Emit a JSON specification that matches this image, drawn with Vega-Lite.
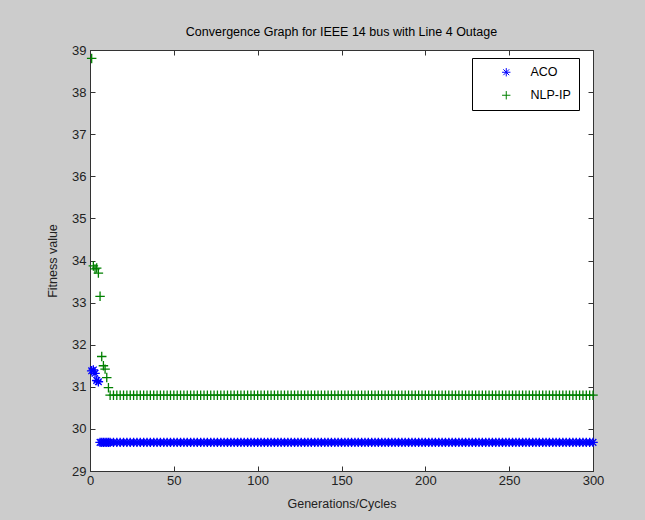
{
  "$schema": "https://vega.github.io/schema/vega-lite/v6.json",
  "width": 503,
  "height": 421,
  "autosize": {"type": "none"},
  "padding": {"left": 90, "top": 50, "right": 52, "bottom": 49},
  "background": "#cccccc",
  "title": {"text": "Convergence Graph for IEEE 14 bus with Line 4 Outage", "font": "Liberation Sans", "fontSize": 12.5, "fontWeight": "normal", "color": "#000000", "offset": 6, "anchor": "middle"},
  "config": {
    "view": {"fill": "#ffffff", "stroke": "#333333", "strokeWidth": 1},
    "axis": {"grid": false, "labelFont": "Liberation Sans", "labelFontSize": 13, "labelColor": "#222222", "labelFlush": false, "labelOverlap": false, "titleFont": "Liberation Sans", "titleFontSize": 12.5, "titleFontWeight": "normal", "titleColor": "#222222", "domainColor": "#333333", "tickColor": "#333333", "tickSize": -5, "tickWidth": 1}
  },
  "data": {"values": [
    {"x":1,"ACO":31.38,"NLP-IP":38.8},
    {"x":2,"ACO":31.4,"NLP-IP":33.87},
    {"x":3,"ACO":31.32,"NLP-IP":33.8},
    {"x":4,"ACO":31.15,"NLP-IP":33.82},
    {"x":5,"ACO":31.12,"NLP-IP":33.7},
    {"x":6,"ACO":29.68,"NLP-IP":33.15},
    {"x":7,"ACO":29.68,"NLP-IP":31.72},
    {"x":8,"ACO":29.68,"NLP-IP":31.5},
    {"x":9,"ACO":29.68,"NLP-IP":31.42},
    {"x":10,"ACO":29.68,"NLP-IP":31.22},
    {"x":11,"ACO":29.68,"NLP-IP":30.98},
    {"x":12,"ACO":29.68,"NLP-IP":30.8},
    {"x":14,"ACO":29.68,"NLP-IP":30.8},{"x":16,"ACO":29.68,"NLP-IP":30.8},{"x":18,"ACO":29.68,"NLP-IP":30.8},{"x":20,"ACO":29.68,"NLP-IP":30.8},
    {"x":22,"ACO":29.68,"NLP-IP":30.8},{"x":24,"ACO":29.68,"NLP-IP":30.8},{"x":26,"ACO":29.68,"NLP-IP":30.8},{"x":28,"ACO":29.68,"NLP-IP":30.8},
    {"x":30,"ACO":29.68,"NLP-IP":30.8},{"x":32,"ACO":29.68,"NLP-IP":30.8},{"x":34,"ACO":29.68,"NLP-IP":30.8},{"x":36,"ACO":29.68,"NLP-IP":30.8},
    {"x":38,"ACO":29.68,"NLP-IP":30.8},{"x":40,"ACO":29.68,"NLP-IP":30.8},{"x":42,"ACO":29.68,"NLP-IP":30.8},{"x":44,"ACO":29.68,"NLP-IP":30.8},
    {"x":46,"ACO":29.68,"NLP-IP":30.8},{"x":48,"ACO":29.68,"NLP-IP":30.8},{"x":50,"ACO":29.68,"NLP-IP":30.8},{"x":52,"ACO":29.68,"NLP-IP":30.8},
    {"x":54,"ACO":29.68,"NLP-IP":30.8},{"x":56,"ACO":29.68,"NLP-IP":30.8},{"x":58,"ACO":29.68,"NLP-IP":30.8},{"x":60,"ACO":29.68,"NLP-IP":30.8},
    {"x":62,"ACO":29.68,"NLP-IP":30.8},{"x":64,"ACO":29.68,"NLP-IP":30.8},{"x":66,"ACO":29.68,"NLP-IP":30.8},{"x":68,"ACO":29.68,"NLP-IP":30.8},
    {"x":70,"ACO":29.68,"NLP-IP":30.8},{"x":72,"ACO":29.68,"NLP-IP":30.8},{"x":74,"ACO":29.68,"NLP-IP":30.8},{"x":76,"ACO":29.68,"NLP-IP":30.8},
    {"x":78,"ACO":29.68,"NLP-IP":30.8},{"x":80,"ACO":29.68,"NLP-IP":30.8},{"x":82,"ACO":29.68,"NLP-IP":30.8},{"x":84,"ACO":29.68,"NLP-IP":30.8},
    {"x":86,"ACO":29.68,"NLP-IP":30.8},{"x":88,"ACO":29.68,"NLP-IP":30.8},{"x":90,"ACO":29.68,"NLP-IP":30.8},{"x":92,"ACO":29.68,"NLP-IP":30.8},
    {"x":94,"ACO":29.68,"NLP-IP":30.8},{"x":96,"ACO":29.68,"NLP-IP":30.8},{"x":98,"ACO":29.68,"NLP-IP":30.8},{"x":100,"ACO":29.68,"NLP-IP":30.8},
    {"x":102,"ACO":29.68,"NLP-IP":30.8},{"x":104,"ACO":29.68,"NLP-IP":30.8},{"x":106,"ACO":29.68,"NLP-IP":30.8},{"x":108,"ACO":29.68,"NLP-IP":30.8},
    {"x":110,"ACO":29.68,"NLP-IP":30.8},{"x":112,"ACO":29.68,"NLP-IP":30.8},{"x":114,"ACO":29.68,"NLP-IP":30.8},{"x":116,"ACO":29.68,"NLP-IP":30.8},
    {"x":118,"ACO":29.68,"NLP-IP":30.8},{"x":120,"ACO":29.68,"NLP-IP":30.8},{"x":122,"ACO":29.68,"NLP-IP":30.8},{"x":124,"ACO":29.68,"NLP-IP":30.8},
    {"x":126,"ACO":29.68,"NLP-IP":30.8},{"x":128,"ACO":29.68,"NLP-IP":30.8},{"x":130,"ACO":29.68,"NLP-IP":30.8},{"x":132,"ACO":29.68,"NLP-IP":30.8},
    {"x":134,"ACO":29.68,"NLP-IP":30.8},{"x":136,"ACO":29.68,"NLP-IP":30.8},{"x":138,"ACO":29.68,"NLP-IP":30.8},{"x":140,"ACO":29.68,"NLP-IP":30.8},
    {"x":142,"ACO":29.68,"NLP-IP":30.8},{"x":144,"ACO":29.68,"NLP-IP":30.8},{"x":146,"ACO":29.68,"NLP-IP":30.8},{"x":148,"ACO":29.68,"NLP-IP":30.8},
    {"x":150,"ACO":29.68,"NLP-IP":30.8},{"x":152,"ACO":29.68,"NLP-IP":30.8},{"x":154,"ACO":29.68,"NLP-IP":30.8},{"x":156,"ACO":29.68,"NLP-IP":30.8},
    {"x":158,"ACO":29.68,"NLP-IP":30.8},{"x":160,"ACO":29.68,"NLP-IP":30.8},{"x":162,"ACO":29.68,"NLP-IP":30.8},{"x":164,"ACO":29.68,"NLP-IP":30.8},
    {"x":166,"ACO":29.68,"NLP-IP":30.8},{"x":168,"ACO":29.68,"NLP-IP":30.8},{"x":170,"ACO":29.68,"NLP-IP":30.8},{"x":172,"ACO":29.68,"NLP-IP":30.8},
    {"x":174,"ACO":29.68,"NLP-IP":30.8},{"x":176,"ACO":29.68,"NLP-IP":30.8},{"x":178,"ACO":29.68,"NLP-IP":30.8},{"x":180,"ACO":29.68,"NLP-IP":30.8},
    {"x":182,"ACO":29.68,"NLP-IP":30.8},{"x":184,"ACO":29.68,"NLP-IP":30.8},{"x":186,"ACO":29.68,"NLP-IP":30.8},{"x":188,"ACO":29.68,"NLP-IP":30.8},
    {"x":190,"ACO":29.68,"NLP-IP":30.8},{"x":192,"ACO":29.68,"NLP-IP":30.8},{"x":194,"ACO":29.68,"NLP-IP":30.8},{"x":196,"ACO":29.68,"NLP-IP":30.8},
    {"x":198,"ACO":29.68,"NLP-IP":30.8},{"x":200,"ACO":29.68,"NLP-IP":30.8},{"x":202,"ACO":29.68,"NLP-IP":30.8},{"x":204,"ACO":29.68,"NLP-IP":30.8},
    {"x":206,"ACO":29.68,"NLP-IP":30.8},{"x":208,"ACO":29.68,"NLP-IP":30.8},{"x":210,"ACO":29.68,"NLP-IP":30.8},{"x":212,"ACO":29.68,"NLP-IP":30.8},
    {"x":214,"ACO":29.68,"NLP-IP":30.8},{"x":216,"ACO":29.68,"NLP-IP":30.8},{"x":218,"ACO":29.68,"NLP-IP":30.8},{"x":220,"ACO":29.68,"NLP-IP":30.8},
    {"x":222,"ACO":29.68,"NLP-IP":30.8},{"x":224,"ACO":29.68,"NLP-IP":30.8},{"x":226,"ACO":29.68,"NLP-IP":30.8},{"x":228,"ACO":29.68,"NLP-IP":30.8},
    {"x":230,"ACO":29.68,"NLP-IP":30.8},{"x":232,"ACO":29.68,"NLP-IP":30.8},{"x":234,"ACO":29.68,"NLP-IP":30.8},{"x":236,"ACO":29.68,"NLP-IP":30.8},
    {"x":238,"ACO":29.68,"NLP-IP":30.8},{"x":240,"ACO":29.68,"NLP-IP":30.8},{"x":242,"ACO":29.68,"NLP-IP":30.8},{"x":244,"ACO":29.68,"NLP-IP":30.8},
    {"x":246,"ACO":29.68,"NLP-IP":30.8},{"x":248,"ACO":29.68,"NLP-IP":30.8},{"x":250,"ACO":29.68,"NLP-IP":30.8},{"x":252,"ACO":29.68,"NLP-IP":30.8},
    {"x":254,"ACO":29.68,"NLP-IP":30.8},{"x":256,"ACO":29.68,"NLP-IP":30.8},{"x":258,"ACO":29.68,"NLP-IP":30.8},{"x":260,"ACO":29.68,"NLP-IP":30.8},
    {"x":262,"ACO":29.68,"NLP-IP":30.8},{"x":264,"ACO":29.68,"NLP-IP":30.8},{"x":266,"ACO":29.68,"NLP-IP":30.8},{"x":268,"ACO":29.68,"NLP-IP":30.8},
    {"x":270,"ACO":29.68,"NLP-IP":30.8},{"x":272,"ACO":29.68,"NLP-IP":30.8},{"x":274,"ACO":29.68,"NLP-IP":30.8},{"x":276,"ACO":29.68,"NLP-IP":30.8},
    {"x":278,"ACO":29.68,"NLP-IP":30.8},{"x":280,"ACO":29.68,"NLP-IP":30.8},{"x":282,"ACO":29.68,"NLP-IP":30.8},{"x":284,"ACO":29.68,"NLP-IP":30.8},
    {"x":286,"ACO":29.68,"NLP-IP":30.8},{"x":288,"ACO":29.68,"NLP-IP":30.8},{"x":290,"ACO":29.68,"NLP-IP":30.8},{"x":292,"ACO":29.68,"NLP-IP":30.8},
    {"x":294,"ACO":29.68,"NLP-IP":30.8},{"x":296,"ACO":29.68,"NLP-IP":30.8},{"x":298,"ACO":29.68,"NLP-IP":30.8},{"x":300,"ACO":29.68,"NLP-IP":30.8}
  ]},
  "transform": [{"fold": ["ACO", "NLP-IP"], "as": ["series", "value"]}],
  "layer": [
    {
      "mark": {"type": "point", "filled": false, "strokeWidth": 1.3, "size": 90, "opacity": 1, "clip": false},
      "encoding": {
        "x": {"field": "x", "type": "quantitative", "scale": {"domain": [0, 300], "nice": false, "zero": false},
              "axis": {"orient": "bottom", "values": [0, 50, 100, 150, 200, 250, 300], "title": "Generations/Cycles", "labelPadding": 8, "titlePadding": 10}},
        "y": {"field": "value", "type": "quantitative", "scale": {"domain": [29, 39], "nice": false, "zero": false},
              "axis": {"orient": "left", "values": [29, 30, 31, 32, 33, 34, 35, 36, 37, 38, 39], "title": "Fitness value", "labelPadding": 9, "titlePadding": 12}},
        "color": {"field": "series", "type": "nominal",
                  "scale": {"domain": ["ACO", "NLP-IP"], "range": ["#0000ff", "#008000"]},
                  "legend": {"title": null, "orient": "none", "legendX": 382, "legendY": 8, "fillColor": "#ffffff", "strokeColor": "#000000", "padding": 8, "symbolOffset": 20, "labelFont": "Liberation Sans", "labelFontSize": 12.5, "labelColor": "#000000", "rowPadding": 10, "labelOffset": 18, "symbolSize": 70, "symbolStrokeWidth": 1, "direction": "vertical"}},
        "shape": {"field": "series", "type": "nominal",
                  "scale": {"domain": ["ACO", "NLP-IP"], "range": ["M-1,0L1,0M0,-1L0,1M-0.7,-0.7L0.7,0.7M-0.7,0.7L0.7,-0.7", "M-1,0L1,0M0,-1L0,1"]},
                  "legend": null}
      }
    },
    {
      "mark": {"type": "point", "opacity": 0},
      "encoding": {
        "x": {"field": "x", "type": "quantitative", "axis": {"orient": "top", "values": [0, 50, 100, 150, 200, 250, 300], "labels": false, "title": null}},
        "y": {"field": "value", "type": "quantitative", "axis": {"orient": "right", "values": [29, 30, 31, 32, 33, 34, 35, 36, 37, 38, 39], "labels": false, "title": null}}
      }
    }
  ],
  "resolve": {"axis": {"x": "independent", "y": "independent"}}
}
